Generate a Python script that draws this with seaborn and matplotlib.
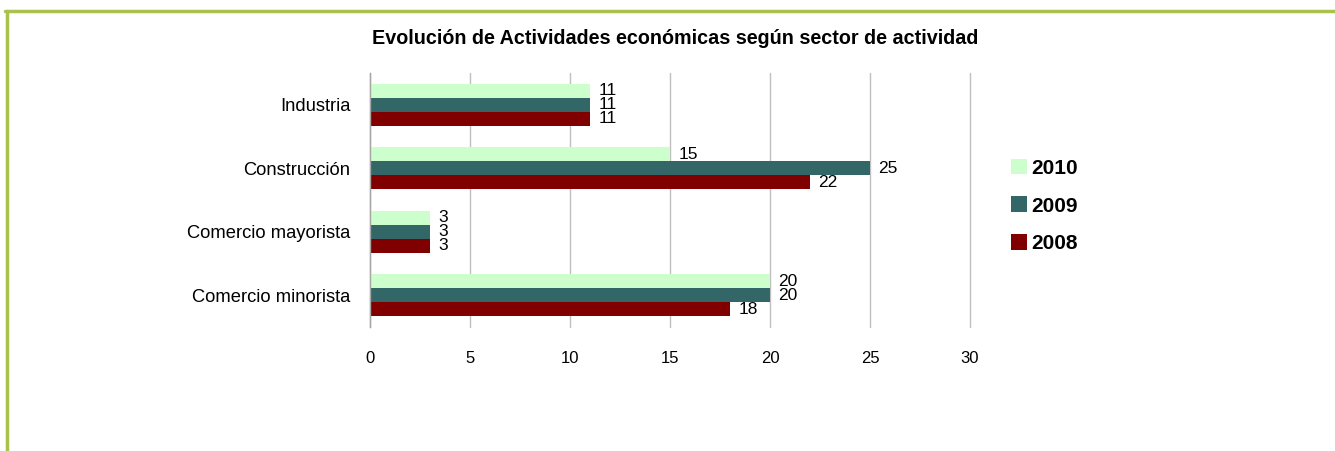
import pandas as pd
import numpy as np
import matplotlib
matplotlib.use('Agg')
import matplotlib.pyplot as plt
import seaborn as sns
from matplotlib.patches import Patch
from matplotlib.lines import Line2D

# data
sectores = ['Industria', 'Construcción', 'Comercio mayorista', 'Comercio minorista']
anios = ['2010', '2009', '2008']
v2010 = [11, 15, 3, 20]
v2009 = [11, 25, 3, 20]
v2008 = [11, 22, 3, 18]
colores = ['#CCFFCC', '#336666', '#800000']

df = pd.DataFrame({
    'sector': sectores * 3,
    'anio': [anios[0]] * 4 + [anios[1]] * 4 + [anios[2]] * 4,
    'valor': v2010 + v2009 + v2008,
})

sns.set_style('white')
fuente = ['Liberation Sans', 'DejaVu Sans']
plt.rcParams['font.family'] = fuente
plt.rcParams['text.color'] = 'black'
plt.rcParams['xtick.color'] = 'black'
plt.rcParams['ytick.color'] = 'black'

fig = plt.figure(figsize=(13.35, 4.51), dpi=100)
ax = fig.add_axes([370 / 1335, 1 - 327 / 451, 600 / 1335, 254 / 451])

sns.barplot(data=df, y='sector', x='valor', hue='anio', order=sectores,
            hue_order=anios, palette=colores, orient='h', width=0.66,
            saturation=1, linewidth=0, ax=ax, legend=False)

for cont in ax.containers:
    ax.bar_label(cont, labels=[f'{int(v)}' for v in cont.datavalues],
                 padding=6, fontsize=12.5, color='black')

ax.set_xlim(0, 30)
ax.set_ylim(3.5, -0.5)
ax.set_xticks(np.arange(0, 31, 5))
ax.set_xlabel('')
ax.set_ylabel('')
ax.grid(axis='x', color='#BFBFBF', lw=1)
ax.grid(axis='y', visible=False)
ax.set_axisbelow(True)
for line in ax.get_xgridlines():
    line.set_clip_on(False)
for s in ['top', 'right', 'bottom']:
    ax.spines[s].set_visible(False)
ax.spines['left'].set_color('#A6A6A6')
ax.spines['left'].set_linewidth(1)
ax.tick_params(axis='x', length=0, pad=17, labelsize=12)
ax.tick_params(axis='y', length=0, pad=14, labelsize=13.2)

handles = [Patch(facecolor=c, edgecolor='none') for c in colores]
fig.legend(handles, anios, loc='center left', bbox_to_anchor=(1011 / 1335, 1 - 206 / 451),
           frameon=False, borderpad=0, borderaxespad=0, handlelength=0.77,
           handleheight=0.77, handletextpad=0.2, labelspacing=0.9,
           prop={'weight': 'bold', 'size': 15})

fig.text(675 / 1335, 1 - 38 / 451,
         'Evolución de Actividades económicas según sector de actividad',
         ha='center', va='center', fontsize=14.2, fontweight='bold')

# olive frame on top and left
borde = '#A9C24D'
fig.add_artist(Line2D([5 / 1335, 1], [1 - 11 / 451, 1 - 11 / 451], color=borde, lw=2.5))
fig.add_artist(Line2D([6.5 / 1335, 6.5 / 1335], [0, 1 - 11 / 451], color=borde, lw=2.5))

fig.savefig('out.png', dpi=100)
